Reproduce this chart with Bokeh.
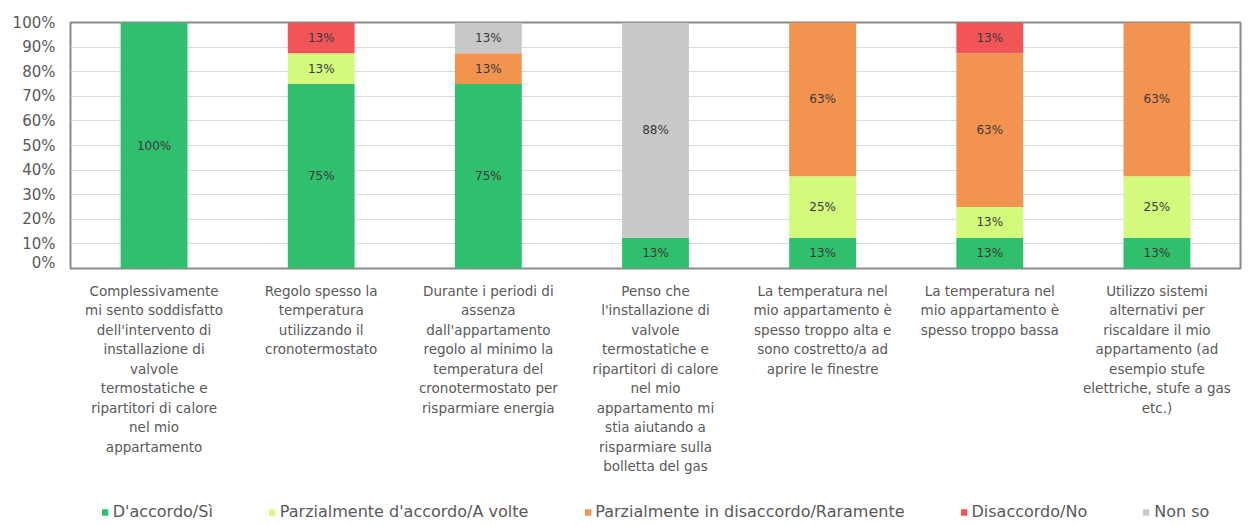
from bokeh.plotting import figure
from bokeh.models import (ColumnDataSource, FactorRange, FixedTicker, PrintfTickFormatter,
                          Legend, LegendItem, Range1d)
from bokeh.layouts import column
from bokeh.core.properties import value
from bokeh.embed import file_html
from bokeh.resources import INLINE

categories = [
    "Complessivamente\nmi sento soddisfatto\ndell'intervento di\ninstallazione di\nvalvole\ntermostatiche e\nripartitori di calore\nnel mio\nappartamento",
    "Regolo spesso la\ntemperatura\nutilizzando il\ncronotermostato",
    "Durante i periodi di\nassenza\ndall'appartamento\nregolo al minimo la\ntemperatura del\ncronotermostato per\nrisparmiare energia",
    "Penso che\nl'installazione di\nvalvole\ntermostatiche e\nripartitori di calore\nnel mio\nappartamento mi\nstia aiutando a\nrisparmiare sulla\nbolletta del gas",
    "La temperatura nel\nmio appartamento è\nspesso troppo alta e\nsono costretto/a ad\naprire le finestre",
    "La temperatura nel\nmio appartamento è\nspesso troppo bassa",
    "Utilizzo sistemi\nalternativi per\nriscaldare il mio\nappartamento (ad\nesempio stufe\nelettriche, stufe a gas\netc.)",
]
series_names = ["D'accordo/Sì", "Parzialmente d'accordo/A volte",
                "Parzialmente in disaccordo/Raramente", "Disaccordo/No", "Non so"]
accordo = [100, 75, 75, 12.5, 12.5, 12.5, 12.5]
parziale = [0, 12.5, 0, 0, 25, 12.5, 25]
parz_disaccordo = [0, 0, 12.5, 0, 62.5, 62.5, 62.5]
disaccordo = [0, 12.5, 0, 0, 0, 12.5, 0]
non_so = [0, 0, 12.5, 87.5, 0, 0, 0]
y_ticks = [0, 10, 20, 30, 40, 50, 60, 70, 80, 90, 100]

colors = ["#30BF6E", "#D3FA7C", "#F2934F", "#F25558", "#C8C8C8"]
keys = ["a", "b", "c", "d", "e"]
series = [accordo, parziale, parz_disaccordo, disaccordo, non_so]

data = {"cat": categories}
for k, s in zip(keys, series):
    data[k] = s
source = ColumnDataSource(data)

FONT = "DejaVu Sans"
W = 1242
TOP_H = 271
BOT_H = 250

xr = FactorRange(*categories)

p = figure(x_range=xr, y_range=(0, 100), width=W, height=TOP_H,
           output_backend="svg", toolbar_location=None, min_border_left=70,
           min_border_right=2, min_border_top=22, min_border_bottom=3)

renderers = p.vbar_stack(keys, x="cat", width=0.4, color=colors, source=source,
                         line_color=None)

# data labels
lx, ly, lt = [], [], []
for i, c in enumerate(categories):
    base = 0
    for s in series:
        v = s[i]
        if v > 0:
            lx.append(c)
            ly.append(base + v / 2)
            lt.append("%d%%" % int(v + 0.5))
        base += v
p.text(x=lx, y=ly, text=lt, text_align="center", text_baseline="middle",
       text_font=value(FONT), text_font_size="12px", text_color="#3a3a3a")

p.outline_line_color = "#8a8a8a"
p.outline_line_width = 2
p.xgrid.grid_line_color = None
p.ygrid.grid_line_color = "#DADADA"
p.ygrid.grid_line_width = 1
p.ygrid.ticker = FixedTicker(ticks=y_ticks)

p.xaxis.visible = False
p.yaxis.ticker = FixedTicker(ticks=y_ticks)
p.yaxis.formatter = PrintfTickFormatter(format="%d%%")
p.yaxis.axis_line_color = None
p.yaxis.major_tick_line_color = None
p.yaxis.minor_tick_line_color = None
p.yaxis.major_label_text_font = FONT
p.yaxis.major_label_text_font_size = "15px"
p.yaxis.major_label_text_color = "#595959"
p.yaxis.major_label_standoff = 9

# lower panel: category labels and legend
p2 = figure(x_range=xr, y_range=Range1d(BOT_H, 0), width=W, height=BOT_H,
            output_backend="svg", toolbar_location=None, min_border_left=70,
            min_border_right=2, min_border_top=0, min_border_bottom=0,
            x_axis_location=None, y_axis_location=None)
p2.grid.grid_line_color = None
p2.outline_line_color = None

p2.text(x=categories, y=[11] * len(categories), text=categories,
        text_align="center", text_baseline="top", text_font=value(FONT),
        text_font_size="13.5px", text_color="#595959", text_line_height=1.22)

# legend proxies (zero-height, invisible in the panel)
proxies = [p2.vbar(x=[categories[0]], top=[0], bottom=[0], width=0.4, color=c, line_color=None)
           for c in colors]
legend = Legend(items=[LegendItem(label=n, renderers=[r]) for n, r in zip(series_names, proxies)],
                orientation="horizontal", location="bottom_center")
legend.label_text_font = FONT
legend.label_text_font_size = "16px"
legend.label_text_color = "#595959"
legend.glyph_width = 8
legend.glyph_height = 8
legend.label_standoff = 4
legend.spacing = 55
legend.border_line_color = None
legend.background_fill_alpha = 0
legend.padding = 0
legend.margin = 0
p2.add_layout(legend)

layout = column(p, p2, spacing=0)
open("out.html", "w").write(file_html(layout, INLINE))
